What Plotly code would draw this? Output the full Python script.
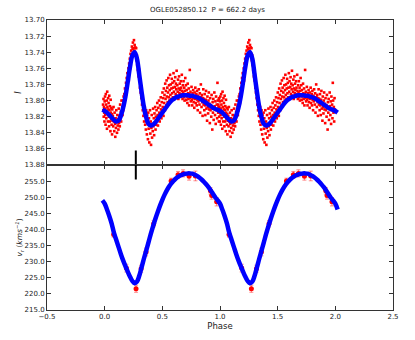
import plotly.graph_objects as go
from plotly.subplots import make_subplots

title_text = "OGLE052850.12  P = 662.2 days"

# ---- model curves, one cycle (phase step 0.02) ----
curve_phase = [0.00, 0.02, 0.04, 0.06, 0.08, 0.10, 0.12, 0.14, 0.16, 0.18,
               0.20, 0.22, 0.24, 0.26, 0.28, 0.30, 0.32, 0.34, 0.36, 0.38,
               0.40, 0.42, 0.44, 0.46, 0.48, 0.50, 0.52, 0.54, 0.56, 0.58,
               0.60, 0.62, 0.64, 0.66, 0.68, 0.70, 0.72, 0.74, 0.76, 0.78,
               0.80, 0.82, 0.84, 0.86, 0.88, 0.90, 0.92, 0.94, 0.96, 0.98]
curve_mag = [13.813, 13.815, 13.818, 13.821, 13.824, 13.826, 13.825, 13.819, 13.809, 13.795,
             13.777, 13.758, 13.744, 13.740, 13.748, 13.768, 13.789, 13.808, 13.821, 13.829,
             13.831, 13.830, 13.827, 13.823, 13.819, 13.815, 13.811, 13.807, 13.803, 13.800,
             13.798, 13.796, 13.795, 13.794, 13.7935, 13.7935, 13.7935, 13.794, 13.794, 13.795,
             13.796, 13.797, 13.799, 13.801, 13.803, 13.805, 13.807, 13.809, 13.8105, 13.8115]
curve_vr = [248.0, 246.2, 244.2, 241.9, 239.0, 236.8, 234.6, 232.4, 230.4, 228.6,
            226.9, 225.3, 224.0, 223.3, 223.8, 225.6, 228.2, 230.9, 233.4, 236.0,
            238.6, 241.0, 243.3, 245.4, 247.4, 249.2, 250.8, 252.2, 253.4, 254.4,
            255.2, 255.9, 256.4, 256.8, 257.1, 257.3, 257.4, 257.4, 257.3, 257.0,
            256.6, 256.1, 255.5, 254.8, 254.0, 253.1, 252.1, 251.0, 249.9, 249.0]

# ---- radial velocity measurements ----
rv_phase = [0.078, 0.188, 0.272, 0.316, 0.359, 0.425, 0.576, 0.636, 0.680, 0.732,
            0.787, 0.917, 0.928, 0.971]
rv_value = [238.4, 228.0, 221.6, 227.8, 233.0, 241.8, 255.0, 257.0, 257.4, 256.5,
            256.6, 252.0, 250.5, 248.6]
rv_error = [0.8, 1.2, 1.1, 1.1, 1.2, 1.0, 0.9, 1.0, 1.1, 1.2,
            1.5, 1.0, 1.1, 1.3]

# ---- I-band photometry (phase, mag) ----
phot = [
    (-0.014, 13.805), (-0.012, 13.812), (-0.010, 13.798), (-0.008, 13.820), (-0.006, 13.808),
    (-0.004, 13.815), (-0.002, 13.826), (0.000, 13.801), (0.003, 13.795), (0.005, 13.818),
    (0.006, 13.810), (0.008, 13.830), (0.010, 13.792), (0.012, 13.805), (0.014, 13.822),
    (0.016, 13.814), (0.018, 13.800), (0.020, 13.835), (0.022, 13.789), (0.024, 13.808),
    (0.026, 13.816), (0.028, 13.826), (0.030, 13.797), (0.032, 13.811), (0.034, 13.803),
    (0.036, 13.820), (0.038, 13.832), (0.040, 13.794), (0.042, 13.812), (0.044, 13.826),
    (0.046, 13.807), (0.048, 13.818), (0.050, 13.838), (0.052, 13.799), (0.054, 13.815),
    (0.056, 13.823), (0.058, 13.809), (0.060, 13.830), (0.062, 13.817), (0.064, 13.842),
    (0.066, 13.811), (0.068, 13.825),
    (0.071, 13.819), (0.074, 13.832), (0.077, 13.808), (0.080, 13.826), (0.083, 13.838),
    (0.086, 13.815), (0.089, 13.829), (0.092, 13.845), (0.095, 13.822), (0.098, 13.834),
    (0.101, 13.812), (0.104, 13.827), (0.107, 13.840), (0.110, 13.818), (0.113, 13.831),
    (0.116, 13.823), (0.119, 13.836), (0.122, 13.810), (0.125, 13.828), (0.128, 13.819),
    (0.131, 13.832), (0.134, 13.805), (0.137, 13.823), (0.140, 13.814), (0.143, 13.826),
    (0.146, 13.800), (0.149, 13.815),
    (0.152, 13.808), (0.155, 13.818), (0.158, 13.800), (0.161, 13.812), (0.164, 13.795),
    (0.167, 13.806), (0.170, 13.792), (0.173, 13.803), (0.176, 13.785), (0.179, 13.798),
    (0.182, 13.789), (0.185, 13.778), (0.188, 13.792), (0.191, 13.772), (0.194, 13.784),
    (0.197, 13.766), (0.200, 13.779), (0.203, 13.770), (0.206, 13.760), (0.209, 13.775),
    (0.212, 13.754), (0.215, 13.766), (0.218, 13.748), (0.221, 13.760), (0.224, 13.742),
    (0.227, 13.752), (0.230, 13.738), (0.233, 13.748), (0.236, 13.733), (0.239, 13.745),
    (0.242, 13.736), (0.245, 13.728), (0.248, 13.742), (0.251, 13.735), (0.254, 13.725),
    (0.257, 13.738), (0.260, 13.731), (0.263, 13.744), (0.266, 13.734),
    (0.270, 13.742), (0.273, 13.735), (0.276, 13.750), (0.279, 13.744), (0.282, 13.756),
    (0.285, 13.749), (0.288, 13.762), (0.291, 13.755), (0.294, 13.770), (0.297, 13.761),
    (0.300, 13.775), (0.303, 13.768), (0.306, 13.784), (0.309, 13.776), (0.312, 13.790),
    (0.315, 13.782), (0.318, 13.797), (0.321, 13.788), (0.324, 13.805), (0.327, 13.796),
    (0.330, 13.812), (0.333, 13.803), (0.336, 13.819), (0.339, 13.809), (0.342, 13.826),
    (0.345, 13.815), (0.348, 13.808), (0.351, 13.830), (0.354, 13.820), (0.357, 13.836),
    (0.360, 13.812), (0.363, 13.826), (0.366, 13.842), (0.369, 13.818),
    (0.372, 13.828), (0.375, 13.848), (0.378, 13.815), (0.381, 13.835), (0.384, 13.822),
    (0.387, 13.852), (0.390, 13.830), (0.393, 13.812), (0.396, 13.841), (0.399, 13.826),
    (0.402, 13.855), (0.405, 13.834), (0.408, 13.818), (0.411, 13.846), (0.414, 13.829),
    (0.417, 13.838), (0.420, 13.810), (0.423, 13.832), (0.426, 13.822), (0.429, 13.843),
    (0.432, 13.816), (0.435, 13.828), (0.438, 13.808), (0.441, 13.836), (0.444, 13.820),
    (0.447, 13.830), (0.450, 13.812), (0.453, 13.824), (0.456, 13.803), (0.459, 13.818),
    (0.462, 13.831), (0.465, 13.809), (0.468, 13.822), (0.471, 13.800), (0.474, 13.815),
    (0.477, 13.826), (0.480, 13.806), (0.483, 13.817), (0.486, 13.796), (0.489, 13.811),
    (0.492, 13.822), (0.495, 13.802), (0.498, 13.813),
    (0.501, 13.790), (0.504, 13.808), (0.507, 13.797), (0.510, 13.819), (0.513, 13.785),
    (0.516, 13.803), (0.519, 13.793), (0.522, 13.812), (0.525, 13.779), (0.528, 13.798),
    (0.531, 13.788), (0.534, 13.806), (0.537, 13.775), (0.540, 13.795), (0.543, 13.784),
    (0.546, 13.802), (0.549, 13.790), (0.552, 13.772), (0.555, 13.796), (0.558, 13.781),
    (0.561, 13.800), (0.564, 13.787), (0.567, 13.768), (0.570, 13.793), (0.573, 13.780),
    (0.576, 13.798), (0.579, 13.785), (0.582, 13.773), (0.585, 13.791), (0.588, 13.778),
    (0.591, 13.796), (0.594, 13.784), (0.597, 13.766), (0.600, 13.789), (0.603, 13.776),
    (0.606, 13.797), (0.609, 13.783), (0.612, 13.771), (0.615, 13.792), (0.618, 13.779),
    (0.621, 13.786), (0.624, 13.763), (0.627, 13.794), (0.630, 13.781), (0.633, 13.789),
    (0.636, 13.774), (0.639, 13.798), (0.642, 13.785), (0.645, 13.770), (0.648, 13.791),
    (0.651, 13.779), (0.654, 13.787), (0.657, 13.795), (0.660, 13.776), (0.663, 13.784),
    (0.666, 13.792), (0.669, 13.768), (0.672, 13.788), (0.675, 13.798), (0.678, 13.781),
    (0.681, 13.790), (0.684, 13.776), (0.687, 13.796), (0.690, 13.784), (0.693, 13.800),
    (0.696, 13.788), (0.699, 13.772), (0.702, 13.793), (0.705, 13.781), (0.708, 13.799),
    (0.711, 13.787), (0.714, 13.795), (0.717, 13.803), (0.720, 13.779), (0.723, 13.791),
    (0.726, 13.798), (0.729, 13.785), (0.732, 13.806), (0.735, 13.792), (0.738, 13.762),
    (0.741, 13.797), (0.744, 13.789), (0.747, 13.801), (0.750, 13.794), (0.753, 13.783),
    (0.756, 13.799), (0.759, 13.806), (0.762, 13.791), (0.765, 13.797), (0.768, 13.787),
    (0.771, 13.802), (0.774, 13.795), (0.777, 13.809), (0.780, 13.790), (0.783, 13.798),
    (0.786, 13.784), (0.789, 13.803), (0.792, 13.796), (0.795, 13.792), (0.798, 13.806),
    (0.801, 13.788), (0.804, 13.799), (0.807, 13.812), (0.810, 13.794), (0.813, 13.801),
    (0.816, 13.786), (0.819, 13.797), (0.822, 13.805), (0.825, 13.791), (0.828, 13.815),
    (0.831, 13.799), (0.834, 13.780), (0.837, 13.796), (0.840, 13.808), (0.843, 13.793),
    (0.846, 13.802), (0.849, 13.819), (0.852, 13.797), (0.855, 13.786), (0.858, 13.805),
    (0.861, 13.798), (0.864, 13.812), (0.867, 13.792), (0.870, 13.806), (0.873, 13.818),
    (0.876, 13.799), (0.879, 13.788), (0.882, 13.810), (0.885, 13.803), (0.888, 13.825),
    (0.891, 13.795), (0.894, 13.808), (0.897, 13.816), (0.900, 13.800), (0.903, 13.790),
    (0.906, 13.811), (0.909, 13.804), (0.912, 13.828), (0.915, 13.797), (0.918, 13.812),
    (0.921, 13.806), (0.924, 13.820), (0.927, 13.793), (0.930, 13.809), (0.933, 13.836),
    (0.936, 13.802), (0.939, 13.815), (0.942, 13.798), (0.945, 13.824), (0.948, 13.810),
    (0.951, 13.790), (0.954, 13.807), (0.957, 13.818), (0.960, 13.801), (0.963, 13.829),
    (0.966, 13.795), (0.969, 13.812), (0.972, 13.805), (0.975, 13.822), (0.978, 13.778),
    (0.981, 13.800), (0.984, 13.815), (0.987, 13.808), (0.990, 13.826), (0.993, 13.797),
    (0.996, 13.811),
]

marker_phase = 0.27          # phase of the vertical marker line
marker_mag = [13.862, 13.88]
marker_vr = [255.5, 260.0]

x_ticks = [-0.5, 0.0, 0.5, 1.0, 1.5, 2.0, 2.5]
mag_ticks = [13.70, 13.72, 13.74, 13.76, 13.78, 13.80, 13.82, 13.84, 13.86, 13.88]
vr_ticks = [215, 220, 225, 230, 235, 240, 245, 250, 255]
cycles = [0, 1]

# ---- fold over two cycles ----
def fold_curve(ph, vals, lo=-0.02, hi=2.02):
    xs, ys = [], []
    for k in (-1, 0, 1, 2):
        for p, v in zip(ph, vals):
            x = p + k
            if lo - 1e-9 <= x <= hi + 1e-9:
                xs.append(x)
                ys.append(v)
    return xs, ys

cm_x, cm_y = fold_curve(curve_phase, curve_mag)
cv_x, cv_y = fold_curve(curve_phase, curve_vr)

phot_x = [p + k for k in cycles for p, m in phot]
phot_y = [m for k in cycles for p, m in phot]
rv_x = [p + k for k in cycles for p in rv_phase]
rv_y = [v for k in cycles for v in rv_value]
rv_e = [e for k in cycles for e in rv_error]

fig = make_subplots(rows=2, cols=1, shared_xaxes=True, vertical_spacing=0)

fig.add_trace(go.Scatter(x=phot_x, y=phot_y, mode="markers",
                         marker=dict(color="red", size=2.6, symbol="square", line=dict(width=0)),
                         showlegend=False, hoverinfo="skip"), row=1, col=1)
fig.add_trace(go.Scatter(x=cm_x, y=cm_y, mode="lines", line=dict(color="#0000ff", width=4.5, shape="spline"),
                         showlegend=False), row=1, col=1)
fig.add_trace(go.Scatter(x=[marker_phase, marker_phase], y=marker_mag, mode="lines",
                         line=dict(color="black", width=2), showlegend=False), row=1, col=1)

fig.add_trace(go.Scatter(x=rv_x, y=rv_y, mode="markers",
                         marker=dict(color="red", size=5, line=dict(width=0)),
                         error_y=dict(type="data", array=rv_e, color="rgba(255,0,0,0.45)", thickness=1, width=2),
                         showlegend=False), row=2, col=1)
fig.add_trace(go.Scatter(x=cv_x, y=cv_y, mode="lines", line=dict(color="#0000ff", width=4.5, shape="spline"),
                         showlegend=False), row=2, col=1)
fig.add_trace(go.Scatter(x=[marker_phase, marker_phase], y=marker_vr, mode="lines",
                         line=dict(color="black", width=2), showlegend=False), row=2, col=1)

axis_common = dict(showgrid=False, zeroline=False, showline=True, linecolor="#333333", linewidth=1,
                   mirror="ticks", ticks="inside", ticklen=4, tickcolor="#333333", automargin=False,
                   tickfont=dict(size=7, color="#222222"))

fig.update_xaxes(range=[-0.5, 2.5], tickvals=x_ticks, tickformat=".1f", **axis_common)
fig.update_xaxes(showticklabels=False, row=1, col=1)
fig.update_xaxes(title=dict(text="Phase", font=dict(size=8.5, color="#222222"), standoff=1), row=2, col=1)

fig.update_yaxes(range=[13.88, 13.70], tickvals=mag_ticks, tickformat=".2f",
                 title=dict(text="<i>I</i>", font=dict(size=8, color="#222222"), standoff=1),
                 row=1, col=1, **axis_common)
fig.update_yaxes(range=[215, 260], tickvals=vr_ticks, tickformat=".1f",
                 title=dict(text="<i>v<sub>r</sub></i> (<i>kms<sup>−1</sup></i>)", font=dict(size=7.5, color="#222222"), standoff=0),
                 row=2, col=1, **axis_common)

fig.update_layout(
    width=415, height=340,
    margin=dict(l=47, r=22, t=20, b=30),
    paper_bgcolor="white", plot_bgcolor="white",
    font=dict(family="DejaVu Sans", color="#222222"),
    title=dict(text=title_text, x=0.5, xref="container", xanchor="center",
               y=0.972, yref="container", yanchor="middle", font=dict(size=7, color="#222222")),
)

fig.write_html("out.html", config={"displayModeBar": False},
               post_script="document.body.style.margin='0px';")
